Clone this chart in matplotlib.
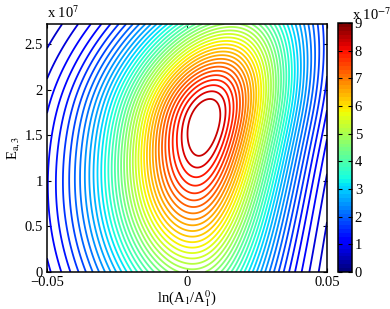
import matplotlib
matplotlib.use("Agg")
import matplotlib.pyplot as plt
import numpy as np

# values
x_lim = [-0.05, 0.05]
y_lim = [0, 2.72e7]
x_ticks = [-0.05, 0, 0.05]
x_tick_labels = ["\u22120.05", "0", "0.05"]
y_ticks = [0, 0.5e7, 1e7, 1.5e7, 2e7, 2.5e7]
y_tick_labels = ["0", "0.5", "1", "1.5", "2", "2.5"]
c_lim = [0, 9e-7]
c_ticks = [k * 1e-7 for k in range(10)]
c_tick_labels = [str(k) for k in range(10)]
levels = [k * 0.2e-7 for k in range(1, 43)]

# shape of the surface (peak, ridge bend, widths on each side, tail weight)
peak = [0.0062, 1.62e7, 8.66e-7]         # x0, y0, max value
ridge = [0.0065, 0.0025]                 # x shift of ridge per 1e7, per (1e7)^2
width_x = [0.0235, 0.021]                # left, right
width_y = [1.5, 1.0]                     # below, above (units of 1e7)
tail_n = [3.5, 20.0]                     # left, right


def surface(X, Y):
    x0, y0, top = peak
    dy = (Y - y0) / 1e7
    u = X - (x0 + ridge[0] * dy + ridge[1] * dy ** 2)
    wx = 0.5 * (1 + np.tanh(u / 0.008))
    wy = 0.5 * (1 + np.tanh(dy / 0.5))
    sx = width_x[0] + (width_x[1] - width_x[0]) * wx
    sy = width_y[0] + (width_y[1] - width_y[0]) * wy
    a = u / sx
    b = dy / sy
    r2 = a ** 2 + b ** 2
    n = tail_n[0] + (tail_n[1] - tail_n[0]) * 0.5 * (1 + np.tanh(a / 1.0))
    return top * (1 + r2 / (2 * n)) ** (-n)


plt.rcParams["font.family"] = ["Liberation Serif", "DejaVu Serif"]
plt.rcParams["mathtext.fontset"] = "stix"
plt.rcParams["font.size"] = 10.5

x = np.linspace(x_lim[0], x_lim[1], 401)
y = np.linspace(y_lim[0], y_lim[1], 401)
X, Y = np.meshgrid(x, y)
Z = surface(X, Y)

cmap = plt.get_cmap("jet", 64)
norm = matplotlib.colors.Normalize(vmin=c_lim[0], vmax=c_lim[1])

fig = plt.figure(figsize=(3.9, 3.09), dpi=100)
ax = fig.add_axes([0.1205, 0.1197, 0.718, 0.8026])
cax = fig.add_axes([0.8667, 0.1197, 0.0359, 0.806])

ax.contour(X, Y, Z, levels=levels, cmap=cmap, norm=norm, linewidths=1.3)
ax.set_xlim(x_lim)
ax.set_ylim(y_lim)
ax.set_xticks(x_ticks)
ax.set_xticklabels(x_tick_labels)
ax.set_yticks(y_ticks)
ax.set_yticklabels(y_tick_labels)
ax.tick_params(direction="in", top=True, right=True, length=3, width=0.8, pad=3)
for s in ax.spines.values():
    s.set_linewidth(1.1)
ax.set_xlabel(r"ln(A$_1$/A$_1^0$)", labelpad=-1)
ax.set_ylabel(r"E$_{\mathrm{a,3}}$", labelpad=2)
ax.text(0.0, 1.012, r"x 10$^{7}$", transform=ax.transAxes, ha="left", va="bottom")

sm = matplotlib.cm.ScalarMappable(norm=norm, cmap=cmap)
cb = fig.colorbar(sm, cax=cax)
cb.set_ticks(c_ticks)
cb.set_ticklabels(c_tick_labels)
cb.outline.set_linewidth(1.1)
cax.tick_params(direction="in", left=True, right=True, length=3, width=0.8, pad=2)
cax.text(1.0, 1.0, r"x 10$^{-7}$", transform=cax.transAxes, ha="left", va="bottom")

fig.savefig("out.png", dpi=100)
